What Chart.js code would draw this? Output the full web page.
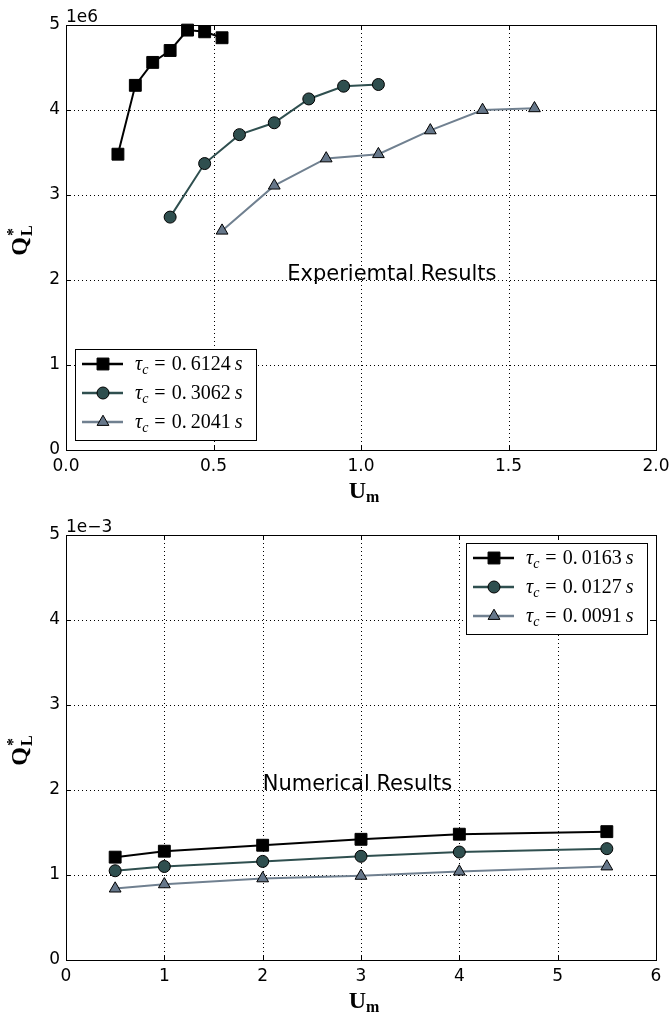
<!DOCTYPE html>
<html><head><meta charset="utf-8">
<script src="https://cdn.jsdelivr.net/npm/chart.js@4/dist/chart.umd.min.js"></script>
<style>
html,body{margin:0;padding:0;background:#fff;}
#wrap{position:relative;width:672px;height:1018px;overflow:hidden;}
canvas{position:absolute;left:0;}
</style></head><body>
<div id="wrap">
<canvas id="c1" width="672" height="510" style="top:0"></canvas>
<canvas id="c2" width="672" height="508" style="top:510px"></canvas>
</div>
<script>
// ---------- data ----------
const expX1 = [0.176, 0.235, 0.294, 0.353, 0.412, 0.470, 0.529];
const expY1 = [3.48e6, 4.29e6, 4.56e6, 4.70e6, 4.94e6, 4.92e6, 4.85e6];
const expX2 = [0.353, 0.470, 0.588, 0.706, 0.823, 0.941, 1.059];
const expY2 = [2.74e6, 3.37e6, 3.71e6, 3.85e6, 4.13e6, 4.28e6, 4.30e6];
const expX3 = [0.529, 0.706, 0.882, 1.059, 1.235, 1.412, 1.588];
const expY3 = [2.58e6, 3.11e6, 3.43e6, 3.48e6, 3.76e6, 4.00e6, 4.02e6];
const expTau = ['0.6124', '0.3062', '0.2041'];

const numX = [0.5, 1, 2, 3, 4, 5.5];
const numY1 = [1.21e-3, 1.28e-3, 1.35e-3, 1.42e-3, 1.48e-3, 1.51e-3];
const numY2 = [1.05e-3, 1.10e-3, 1.16e-3, 1.22e-3, 1.27e-3, 1.31e-3];
const numY3 = [0.84e-3, 0.89e-3, 0.96e-3, 0.99e-3, 1.04e-3, 1.10e-3];
const numTau = ['0.0163', '0.0127', '0.0091'];

const expXTicks = [0, 0.5, 1.0, 1.5, 2.0];
const numXTicks = [0, 1, 2, 3, 4, 5, 6];

// ---------- styles ----------
const styles = [
  {line:'#000000', fill:'#000000', point:'rect', r:8.4},
  {line:'#2F4F4F', fill:'#2F4F4F', point:'circle', r:6},
  {line:'#708090', fill:'#66778A', point:'triangle', r:6.8}
];
const TICKFONT = '"DejaVu Sans", sans-serif';
const SERIF = '"Liberation Serif", "DejaVu Serif", serif';

function mkDataset(xs, ys, st){
  return {
    data: xs.map((x,i)=>({x:x, y:ys[i]})),
    showLine:true, borderColor:st.line, borderWidth:2,
    pointStyle:st.point, pointRadius:st.r, pointHoverRadius:st.r,
    pointBackgroundColor:st.fill, pointBorderColor:'#000', pointBorderWidth:1,
    clip:false, tension:0
  };
}

function drawRuns(ctx, runs, x, y, measureOnly){
  let cx = x;
  for (const r of runs){
    if (r.gap){ cx += r.gap; continue; }
    ctx.font = r.f;
    if (!measureOnly) ctx.fillText(r.t, cx, y + (r.dy||0));
    if (!r.noAdvance) cx += ctx.measureText(r.t).width;
  }
  return cx - x;
}

function tauRuns(v){
  const parts = v.split('.');
  const it = 'italic 20px ' + SERIF, up = '20px ' + SERIF;
  return [
    {t:'τ', f:it},
    {t:'c', f:'italic 14px ' + SERIF, dy:4},
    {gap:6}, {t:'=', f:up}, {gap:6},
    {t:parts[0]+'.', f:up}, {gap:4}, {t:parts[1], f:up}, {gap:4},
    {t:'s', f:it}
  ];
}

function makePlugin(cfg){
  return {
    id:'custom',
    beforeDatasetsDraw(chart){
      const ctx = chart.ctx, a = chart.chartArea;
      const xs = chart.scales.x, ys = chart.scales.y;
      ctx.save();
      ctx.strokeStyle = '#000'; ctx.lineWidth = 1; ctx.setLineDash([1,3]);
      xs.ticks.forEach(t=>{
        const px = Math.round(xs.getPixelForValue(t.value)) + 0.5;
        ctx.beginPath(); ctx.moveTo(px, a.top); ctx.lineTo(px, a.bottom); ctx.stroke();
      });
      ys.ticks.forEach(t=>{
        const py = Math.round(ys.getPixelForValue(t.value)) + 0.5;
        ctx.beginPath(); ctx.moveTo(a.left, py); ctx.lineTo(a.right, py); ctx.stroke();
      });
      ctx.setLineDash([]);
      ctx.fillStyle = '#000';
      ctx.font = '21px ' + TICKFONT;
      ctx.textBaseline = 'alphabetic'; ctx.textAlign = 'left';
      ctx.fillText(cfg.note, xs.getPixelForValue(cfg.noteX), ys.getPixelForValue(cfg.noteY));
      ctx.restore();
    },
    afterDatasetsDraw(chart){
      const ctx = chart.ctx, a = chart.chartArea;
      const xs = chart.scales.x, ys = chart.scales.y;
      ctx.save();
      ctx.strokeStyle = '#000'; ctx.lineWidth = 1;
      ctx.strokeRect(Math.round(a.left)+0.5, Math.round(a.top)+0.5,
                     Math.round(a.right-a.left), Math.round(a.bottom-a.top));
      const L = 5;
      ctx.beginPath();
      xs.ticks.forEach(t=>{
        const px = Math.round(xs.getPixelForValue(t.value)) + 0.5;
        ctx.moveTo(px, a.bottom); ctx.lineTo(px, a.bottom - L);
        ctx.moveTo(px, a.top); ctx.lineTo(px, a.top + L);
      });
      ys.ticks.forEach(t=>{
        const py = Math.round(ys.getPixelForValue(t.value)) + 0.5;
        ctx.moveTo(a.left, py); ctx.lineTo(a.left + L, py);
        ctx.moveTo(a.right, py); ctx.lineTo(a.right - L, py);
      });
      ctx.stroke();
      ctx.fillStyle = '#000';
      ctx.font = '17px ' + TICKFONT; ctx.textAlign = 'left'; ctx.textBaseline = 'alphabetic';
      ctx.fillText(cfg.offset, a.left, a.top - 3);
      const bw = 181, bh = 91;
      const bx = cfg.legendRight ? a.right - 9 - bw : a.left + 9;
      const by = cfg.legendRight ? a.top + 8 : a.bottom - 10 - bh;
      ctx.fillStyle = '#fff';
      ctx.fillRect(bx, by, bw, bh);
      ctx.strokeStyle = '#000'; ctx.lineWidth = 1;
      ctx.strokeRect(Math.round(bx)+0.5, Math.round(by)+0.5, bw, bh);
      cfg.labels.forEach((lab, i)=>{
        const st = styles[i];
        const yy = by + 15 + 29*i;
        ctx.strokeStyle = st.line; ctx.lineWidth = 2.5;
        ctx.beginPath(); ctx.moveTo(bx + 7, yy); ctx.lineTo(bx + 48, yy); ctx.stroke();
        ctx.fillStyle = st.fill; ctx.strokeStyle = '#000'; ctx.lineWidth = 1;
        Chart.helpers.drawPoint(ctx, {pointStyle:st.point, radius:st.r, rotation:0, borderWidth:1}, bx + 28, yy);
        ctx.fillStyle = '#000';
        drawRuns(ctx, tauRuns(lab), bx + 60, yy + 6);
      });
      const xr = [{t:'U', f:'bold 24px ' + SERIF}, {t:'m', f:'bold 16px ' + SERIF, dy:4}];
      const xw = drawRuns(ctx, xr, 0, 0, true);
      drawRuns(ctx, xr, (a.left + a.right)/2 - xw/2 + 3, a.bottom + 48);
      ctx.translate(27, (a.top + a.bottom)/2 + 3);
      ctx.rotate(-Math.PI/2);
      const yr = [{t:'Q', f:'bold 24px ' + SERIF}, {gap:1},
                  {t:'*', f:'bold 16px ' + SERIF, dy:-9, noAdvance:true},
                  {t:'L', f:'bold 16px ' + SERIF, dy:5}];
      const yw = drawRuns(ctx, yr, 0, 0, true);
      drawRuns(ctx, yr, -yw/2, 0);
      ctx.restore();
    }
  };
}

function makeChart(id, datasets, xmin, xmax, xstep, xfmt, ymax, ystep, yfmt, canvasH, cfg){
  return new Chart(document.getElementById(id), {
    type:'scatter',
    data:{datasets:datasets},
    options:{
      responsive:false, animation:false, devicePixelRatio:1,
      layout:{padding:{top:25, right:16, left:0, bottom:0}},
      plugins:{legend:{display:false}, tooltip:{enabled:false}},
      scales:{
        x:{type:'linear', min:xmin, max:xmax,
           ticks:{stepSize:xstep, color:'#000', font:{size:17, family:TICKFONT}, padding:6, callback:xfmt, maxRotation:0},
           grid:{display:false, drawTicks:false}, border:{display:false},
           afterFit:(s)=>{ s.height = canvasH - 450; s.paddingLeft = 0; s.paddingRight = 0; }},
        y:{type:'linear', min:0, max:ymax,
           ticks:{stepSize:ystep, color:'#000', font:{size:17, family:TICKFONT}, padding:6, callback:yfmt},
           grid:{display:false, drawTicks:false}, border:{display:false},
           afterFit:(s)=>{ s.width = 66; s.paddingTop = 0; s.paddingBottom = 0; }}
      }
    },
    plugins:[makePlugin(cfg)]
  });
}

makeChart('c1',
  [mkDataset(expX1, expY1, styles[0]), mkDataset(expX2, expY2, styles[1]), mkDataset(expX3, expY3, styles[2])],
  expXTicks[0], expXTicks[expXTicks.length-1], 0.5, (v)=>Number(v).toFixed(1),
  5e6, 1e6, (v)=>String(Math.round(v/1e6)), 510,
  {note:'Experiemtal Results', noteX:0.75, noteY:2e6, offset:'1e6', labels:expTau, legendRight:false});

makeChart('c2',
  [mkDataset(numX, numY1, styles[0]), mkDataset(numX, numY2, styles[1]), mkDataset(numX, numY3, styles[2])],
  numXTicks[0], numXTicks[numXTicks.length-1], 1, (v)=>String(Math.round(v)),
  5e-3, 1e-3, (v)=>String(Math.round(v*1e3)), 508,
  {note:'Numerical Results', noteX:2, noteY:2e-3, offset:'1e\u22123', labels:numTau, legendRight:true});
</script>
</body></html>
